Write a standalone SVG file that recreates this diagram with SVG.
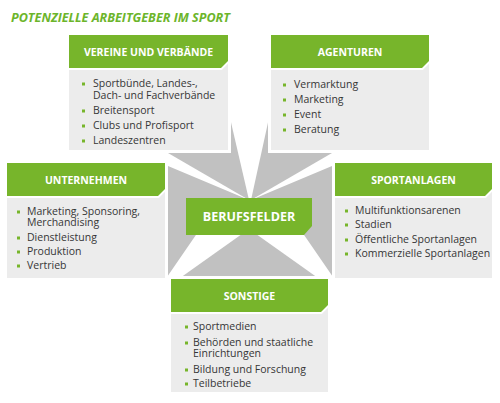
<svg xmlns="http://www.w3.org/2000/svg" width="500" height="403" viewBox="0 0 500 403">
<style>
.hd{fill:#77b52b}
.hdo{fill:none;stroke:#fff;stroke-width:4;stroke-linejoin:miter}
.bd{fill:#ececec}
.wb{fill:#fff}
.star{fill:#c1c1c1}
.ht{font-family:"Open Sans","DejaVu Sans",sans-serif;font-weight:bold;font-size:10.5px;fill:#fff;text-anchor:middle}
.bt{font-family:"Open Sans","DejaVu Sans",sans-serif;font-size:10.5px;fill:#363636}
.bl{fill:#77b52b}
.title{font-family:"Open Sans","DejaVu Sans",sans-serif;font-weight:bold;font-style:italic;font-size:12.6px;fill:#6cb52b}
</style>
<rect width="500" height="403" fill="#fff"/>
<text class="title" x="11" y="22">POTENZIELLE ARBEITGEBER IM SPORT</text>
<g id="connectors">
<polygon class="star" points="230,118 249,200 168,153"/>
<polygon class="star" points="269,118 251,200 332,153"/>
<polygon class="star" points="168,166 249,200 220,200 167,277"/>
<polygon class="star" points="332,166 251,200 280,200 333,277"/>
<polygon class="star" points="249,229 318,278 180,278"/>
</g>
<g id="vereine">
<rect class="wb" x="66" y="32" width="165" height="121"/>
<rect class="bd" x="69" y="62" width="159" height="88"/>
<polygon class="hdo" points="69,35 228,35 228,61 221,68 69,68"/>
<polygon class="hd" points="69,35 228,35 228,61 221,68 69,68"/>
<text class="ht" x="148.5" y="56">VEREINE UND VERBÄNDE</text>
<rect class="bl" x="82" y="82.5" width="3" height="3"/>
<text class="bt" x="93" y="87">Sportbünde, Landes-,<tspan x="93" y="99">Dach- und Fachverbände</tspan></text>
<rect class="bl" x="82" y="109.5" width="3" height="3"/>
<text class="bt" x="93" y="114">Breitensport</text>
<rect class="bl" x="82" y="124.5" width="3" height="3"/>
<text class="bt" x="93" y="129">Clubs und Profisport</text>
<rect class="bl" x="82" y="139.5" width="3" height="3"/>
<text class="bt" x="93" y="144">Landeszentren</text>
</g>
<g id="agenturen">
<rect class="wb" x="268" y="32" width="164" height="121"/>
<rect class="bd" x="271" y="62" width="158" height="88"/>
<polygon class="hdo" points="271,35 429,35 429,61 422,68 271,68"/>
<polygon class="hd" points="271,35 429,35 429,61 422,68 271,68"/>
<text class="ht" x="350" y="56">AGENTUREN</text>
<rect class="bl" x="283" y="83.5" width="3" height="3"/>
<text class="bt" x="294" y="88">Vermarktung</text>
<rect class="bl" x="283" y="98.5" width="3" height="3"/>
<text class="bt" x="294" y="103">Marketing</text>
<rect class="bl" x="283" y="113.5" width="3" height="3"/>
<text class="bt" x="294" y="118">Event</text>
<rect class="bl" x="283" y="128.5" width="3" height="3"/>
<text class="bt" x="294" y="133">Beratung</text>
</g>
<g id="unternehmen">
<rect class="wb" x="4" y="160" width="164" height="121"/>
<rect class="bd" x="7" y="190" width="158" height="88"/>
<polygon class="hdo" points="7,163 165,163 165,189 158,196 7,196"/>
<polygon class="hd" points="7,163 165,163 165,189 158,196 7,196"/>
<text class="ht" x="86" y="184">UNTERNEHMEN</text>
<rect class="bl" x="17" y="210.5" width="3" height="3"/>
<text class="bt" x="27" y="215">Marketing, Sponsoring,<tspan x="27" y="226">Merchandising</tspan></text>
<rect class="bl" x="17" y="236.5" width="3" height="3"/>
<text class="bt" x="27" y="241">Dienstleistung</text>
<rect class="bl" x="17" y="250.5" width="3" height="3"/>
<text class="bt" x="27" y="255">Produktion</text>
<rect class="bl" x="17" y="264.5" width="3" height="3"/>
<text class="bt" x="27" y="269">Vertrieb</text>
</g>
<g id="sportanlagen">
<rect class="wb" x="332" y="160" width="163" height="121"/>
<rect class="bd" x="335" y="190" width="157" height="88"/>
<polygon class="hdo" points="335,163 492,163 492,189 485,196 335,196"/>
<polygon class="hd" points="335,163 492,163 492,189 485,196 335,196"/>
<text class="ht" x="413.5" y="184">SPORTANLAGEN</text>
<rect class="bl" x="345" y="209.5" width="3" height="3"/>
<text class="bt" x="355" y="214">Multifunktionsarenen</text>
<rect class="bl" x="345" y="223.5" width="3" height="3"/>
<text class="bt" x="355" y="228">Stadien</text>
<rect class="bl" x="345" y="238.5" width="3" height="3"/>
<text class="bt" x="355" y="243">Öffentliche Sportanlagen</text>
<rect class="bl" x="345" y="252.5" width="3" height="3"/>
<text class="bt" x="355" y="257">Kommerzielle Sportanlagen</text>
</g>
<g id="sonstige">
<rect class="wb" x="168" y="276" width="163" height="119"/>
<rect class="bd" x="171" y="306" width="157" height="86"/>
<polygon class="hdo" points="171,279 328,279 328,305 321,312 171,312"/>
<polygon class="hd" points="171,279 328,279 328,305 321,312 171,312"/>
<text class="ht" x="249.5" y="300">SONSTIGE</text>
<rect class="bl" x="185" y="325.5" width="3" height="3"/>
<text class="bt" x="193" y="330">Sportmedien</text>
<rect class="bl" x="185" y="341.5" width="3" height="3"/>
<text class="bt" x="193" y="346">Behörden und staatliche<tspan x="193" y="357">Einrichtungen</tspan></text>
<rect class="bl" x="185" y="368.5" width="3" height="3"/>
<text class="bt" x="193" y="373">Bildung und Forschung</text>
<rect class="bl" x="185" y="382.5" width="3" height="3"/>
<text class="bt" x="193" y="387">Teilbetriebe</text>
</g>
<g id="berufsfelder">
<polygon class="hd" points="186,198 312,198 312,226 304,235 186,235"/>
<text class="ht" x="249" y="221" style="font-size:12.5px">BERUFSFELDER</text>
</g>
</svg>
